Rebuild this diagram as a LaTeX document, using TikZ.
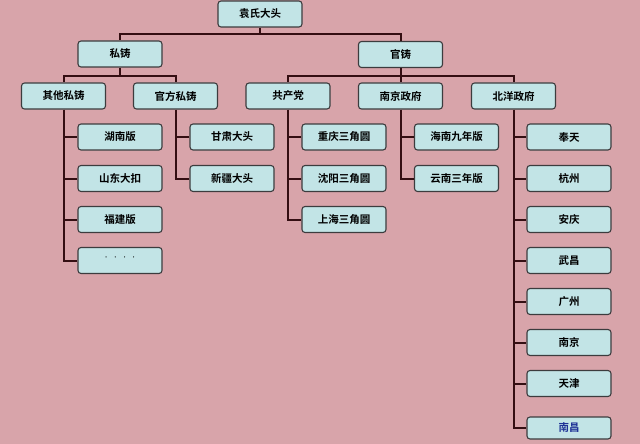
\documentclass[tikz,border=0pt]{standalone}
\usepackage{fontspec}
\newfontfamily\cjk{Noto Sans CJK SC}[BoldFont={Noto Sans CJK SC Bold}]
\definecolor{bgpink}{RGB}{216,164,170}
\definecolor{boxfill}{RGB}{194,228,230}
\definecolor{boxline}{RGB}{60,60,62}
\definecolor{conn}{RGB}{52,14,18}
\definecolor{blueText}{RGB}{30,50,150}
\tikzset{
  orgbox/.style={draw=boxline, fill=boxfill, line width=1.1pt, rounded corners=3pt,
    minimum width=84pt, minimum height=26pt, inner sep=0pt,
    font=\cjk\bfseries\fontsize{10.5}{11}\selectfont, text=black},
  conline/.style={draw=conn, line width=2pt}
}
\begin{document}
\begin{tikzpicture}[x=1pt,y=-1pt]
\fill[bgpink] (0,0) rectangle (640,444);
\useasboundingbox (0,0) rectangle (640,444);
% level 0
\node[orgbox] (top) at (260,14) {袁氏大头};
% level 1
\node[orgbox] (si) at (120,54) {私铸};
\node[orgbox] (guan) at (400.5,54.5) {官铸};
% level 2
\node[orgbox] (qita) at (63.5,96) {其他私铸};
\node[orgbox] (gfsz) at (175.5,96) {官方私铸};
\node[orgbox] (gcd) at (288,96) {共产党};
\node[orgbox] (nj) at (400.5,96) {南京政府};
\node[orgbox] (by) at (513.5,96) {北洋政府};
% children of 其他私铸
\node[orgbox] (hn) at (120,137) {湖南版};
\node[orgbox] (sd) at (120,178.5) {山东大扣};
\node[orgbox] (fj) at (120,219.5) {福建版};
\node[orgbox, font=\normalfont\fontsize{12}{12}\selectfont] (dots) at (120,260.5) {\raisebox{3pt}{····}};
% children of 官方私铸
\node[orgbox] (gs) at (232,137) {甘肃大头};
\node[orgbox] (xj) at (232,178.5) {新疆大头};
% children of 共产党
\node[orgbox] (cq) at (344,137) {重庆三角圆};
\node[orgbox] (sy) at (344,178.5) {沈阳三角圆};
\node[orgbox] (sh) at (344,219.5) {上海三角圆};
% children of 南京政府
\node[orgbox] (hain) at (456.5,137) {海南九年版};
\node[orgbox] (yn) at (456.5,178.5) {云南三年版};
% children of 北洋政府
\node[orgbox] (ft) at (569,137) {奉天};
\node[orgbox] (hz) at (569,178.5) {杭州};
\node[orgbox] (aq) at (569,219.5) {安庆};
\node[orgbox] (wc) at (569,260.5) {武昌};
\node[orgbox] (gz) at (569,301.5) {广州};
\node[orgbox] (njc) at (569,342.5) {南京};
\node[orgbox] (tj) at (569,383.5) {天津};
\node[orgbox, minimum height=22pt, text=blueText] (nc) at (569,428) {南昌};
% connectors level 0 -> 1
\draw[conline] (top.south) -- (top.south |- 0,34) -| (si.north);
\draw[conline] (top.south |- 0,34) -| (guan.north);
% level 1 -> 2
\draw[conline] (si.south) -- (si.south |- 0,76) -| (qita.north);
\draw[conline] (si.south |- 0,76) -| (gfsz.north);
\draw[conline] (guan.south) -- (guan.south |- 0,76) -| (gcd.north);
\draw[conline] (guan.south |- 0,76) -| (nj.north);
\draw[conline] (guan.south |- 0,76) -| (by.north);
% level 2 -> 3
\draw[conline] (qita.south) |- (dots.west);
\foreach \c in {hn,sd,fj} \draw[conline] (qita.south |- \c.west) -- (\c.west);
\draw[conline] (gfsz.south) |- (xj.west);
\draw[conline] (gfsz.south |- gs.west) -- (gs.west);
\draw[conline] (gcd.south) |- (sh.west);
\foreach \c in {cq,sy} \draw[conline] (gcd.south |- \c.west) -- (\c.west);
\draw[conline] (nj.south) |- (yn.west);
\draw[conline] (nj.south |- hain.west) -- (hain.west);
\draw[conline] (by.south) |- (nc.west);
\foreach \c in {ft,hz,aq,wc,gz,njc,tj} \draw[conline] (by.south |- \c.west) -- (\c.west);
\end{tikzpicture}
\end{document}
